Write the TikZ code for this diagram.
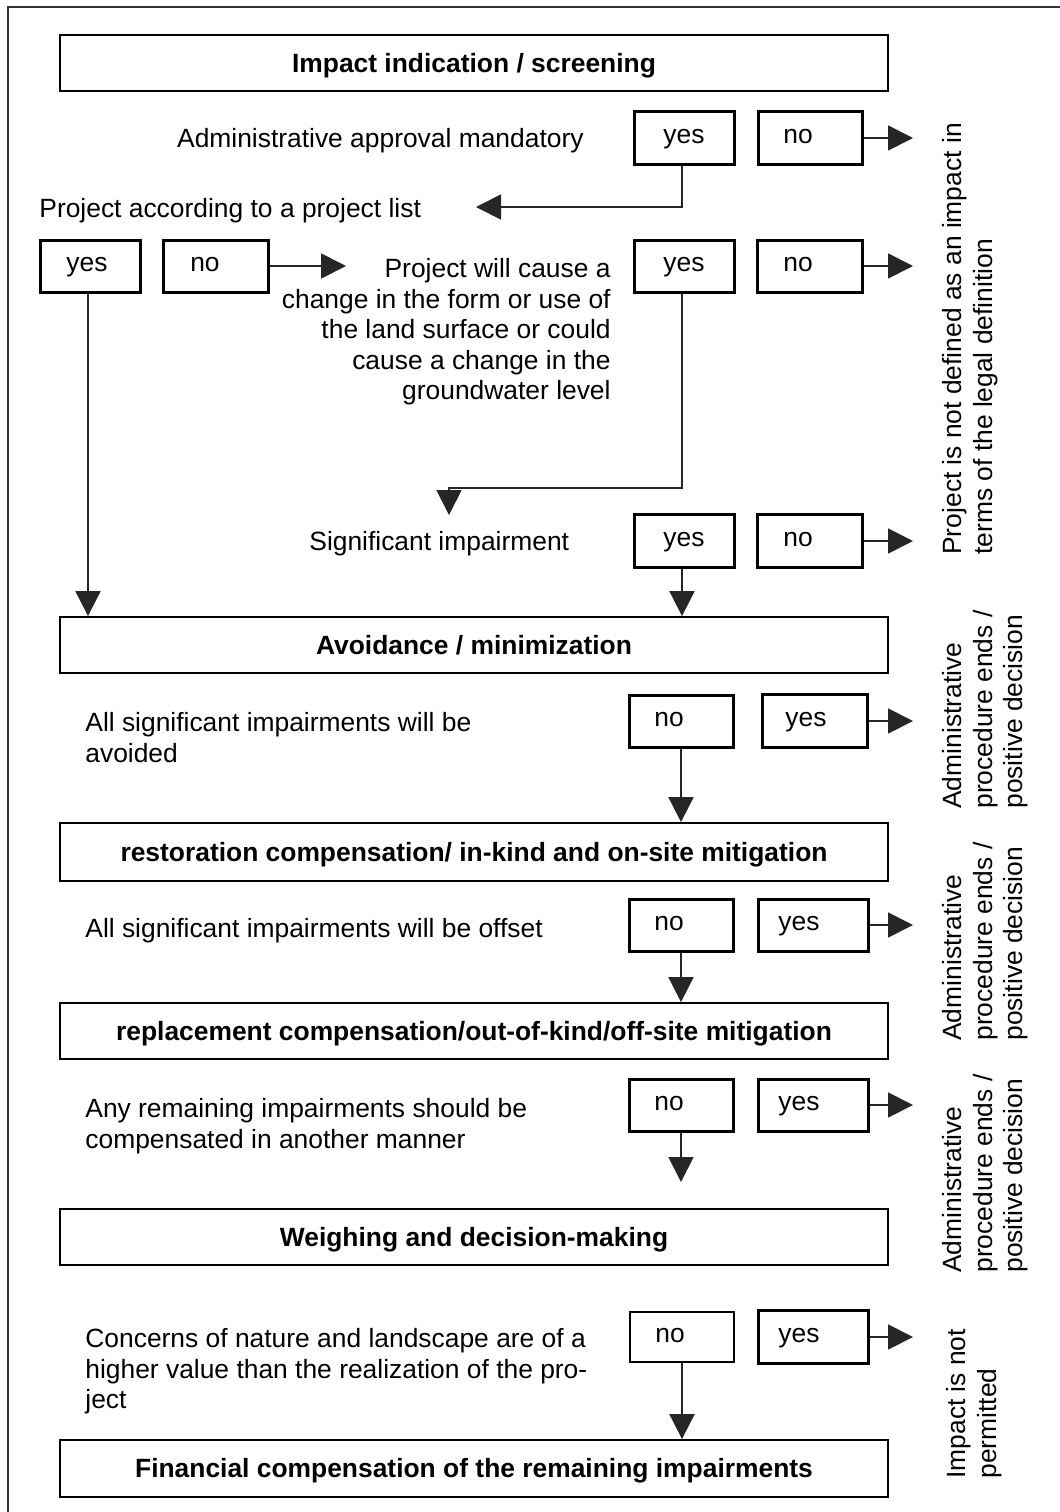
\documentclass[tikz,border=0pt]{standalone}
\usepackage{fontspec}
\setmainfont{Liberation Sans}
\usetikzlibrary{arrows.meta}
\begin{document}
\begin{tikzpicture}[x=0.5pt,y=-0.5pt,
  txt/.style={font=\fontsize{13.2}{15.25}\selectfont, inner sep=0pt},
  stage/.style={draw, line width=0.9pt, minimum width=414pt, minimum height=28pt,
    inner sep=0pt, text height=9.45pt, text depth=0pt,
    font=\fontsize{13.2}{15.25}\selectfont\bfseries},
  choice/.style={draw, line width=1.5pt, minimum height=26.3pt, inner sep=0pt,
    text height=6.2pt, text depth=0.5pt,
    font=\fontsize{13.2}{15.25}\selectfont},
  note/.style={txt, align=left},
  side/.style={txt, rotate=90, align=left, anchor=north west},
  link/.style={line width=0.9pt, draw=black!85},
  flow/.style={link, -{Triangle[length=12.5pt,width=12.5pt]}}
]
\useasboundingbox (0,0) rectangle (1060,1512);
% frame
\draw[line width=1pt, black!80] (8,1512) -- (8,7) -- (1060,7);

% main stages
\node[stage] (screen) at (474,63)   {Impact indication / screening};
\node[stage] (avoid)  at (474,645)  {Avoidance / minimization};
\node[stage, minimum height=29pt] (rest) at (474,852) {restoration compensation/ in-kind and on-site mitigation};
\node[stage] (repl)   at (474,1031) {replacement compensation/out-of-kind/off-site mitigation};
\node[stage] (weigh)  at (474,1237) {Weighing and decision-making};
\node[stage, minimum height=28.5pt] (fin) at (474,1468.5) {Financial compensation of the remaining impairments};

% questions
\node[txt, anchor=base east] (q1) at (584,147.5) {Administrative approval mandatory};
\node[txt, anchor=base west] (q2) at (39,217.5) {Project according to a project list};
\node[txt, align=right, anchor=north east] (q3) at (611,258)
  {Project will cause a\\change in the form or use of\\the land surface or could\\cause a change in the\\groundwater level};
\node[txt, anchor=base west] (q4) at (309,550) {Significant impairment};
\node[note, anchor=north west] (q5) at (85,712) {All significant impairments will be\\avoided};
\node[txt, anchor=base west] (q6) at (85,937) {All significant impairments will be offset};
\node[note, anchor=north west] (q7) at (85,1098) {Any remaining impairments should be\\compensated in another manner};
\node[note, anchor=north west] (q8) at (85,1328) {Concerns of nature and landscape are of a\\higher value than the realization of the pro-\\ject};

% answer boxes (labels sit a little left of centre)
\node[choice, minimum width=50pt]   (y1) at (684,138)  {yes};
\node[choice, minimum width=52pt]   (n1) at (810,138)  {no\kern12pt};
\node[choice, minimum width=50pt, minimum height=26pt] (y2) at (90,266)  {yes\kern3pt};
\node[choice, minimum width=52.5pt, minimum height=26pt] (n2) at (216,266) {no\kern11pt};
\node[choice, minimum width=50pt, minimum height=26pt] (y3) at (684,266) {yes};
\node[choice, minimum width=52.5pt, minimum height=26pt] (n3) at (810,266) {no\kern12pt};
\node[choice, minimum width=50pt]   (y4) at (684,541)  {yes};
\node[choice, minimum width=52.5pt] (n4) at (810,541)  {no\kern12pt};
\node[choice, minimum width=52pt, minimum height=26pt]   (n5) at (681,721)  {no\kern12pt};
\node[choice, minimum width=52.5pt] (y5) at (815,721)  {yes\kern9pt};
\node[choice, minimum width=52pt, minimum height=26pt]   (n6) at (681,925)  {no\kern12pt};
\node[choice, minimum width=55pt, minimum height=26pt]   (y6) at (813,925)  {yes\kern14pt};
\node[choice, minimum width=52pt, minimum height=26pt]   (n7) at (681,1105) {no\kern12pt};
\node[choice, minimum width=55pt, minimum height=26pt]   (y7) at (813,1105) {yes\kern14pt};
\node[choice, line width=0.8pt, minimum width=52pt, minimum height=25pt] (n8) at (682,1337) {no\kern12pt};
\node[choice, minimum width=55pt]   (y8) at (813,1337) {yes\kern14pt};

% outcomes (read bottom to top)
\node[side] (o1) at (942,555)  {Project is not defined as an impact in\\terms of the legal definition};
\node[side] (o2) at (942,809)  {Administrative\\procedure ends /\\positive decision};
\node[side] (o3) at (942,1041) {Administrative\\procedure ends /\\positive decision};
\node[side] (o4) at (942,1273) {Administrative\\procedure ends /\\positive decision};
\node[side] (o5) at (946,1479) {Impact is not\\permitted};

% connector end points
\coordinate (e1) at (913,138);
\coordinate (e3) at (913,266);
\coordinate (e4) at (913,541);
\coordinate (e5) at (913,721);
\coordinate (e6) at (913,925);
\coordinate (e7) at (913,1105);
\coordinate (e8) at (913,1337);
\coordinate (p2in) at (476,207);
\coordinate (p3in) at (346,266);
\coordinate (bend3) at (449,488);
\coordinate (sigin) at (449,515);
\coordinate (wgin) at (681,1182);

% connectors
\draw[flow] (n1.east) -- (e1);
\draw[flow] (n3.east) -- (e3);
\draw[flow] (n4.east) -- (e4);
\draw[flow] (y5.east) -- (e5);
\draw[flow] (y6.east) -- (e6);
\draw[flow] (y7.east) -- (e7);
\draw[flow] (y8.east) -- (e8);

\draw[flow] ([xshift=-1pt]y1.south) |- (p2in);
\draw[flow] (n2.east) -- (p3in);
\draw[flow] ([xshift=-1pt]y2.south) -- ([xshift=-1pt]y2.south |- avoid.north);
\draw[flow] ([xshift=-1pt]y3.south) |- (bend3) -- (sigin);
\draw[flow] ([xshift=-1pt]y4.south) -- ([xshift=-1pt]y4.south |- avoid.north);
\draw[flow] (n5.south) -- (n5.south |- rest.north);
\draw[flow] (n6.south) -- (n6.south |- repl.north);
\draw[flow] (n7.south) -- (wgin);
\draw[flow] (n8.south) -- (n8.south |- fin.north);
\end{tikzpicture}
\end{document}
